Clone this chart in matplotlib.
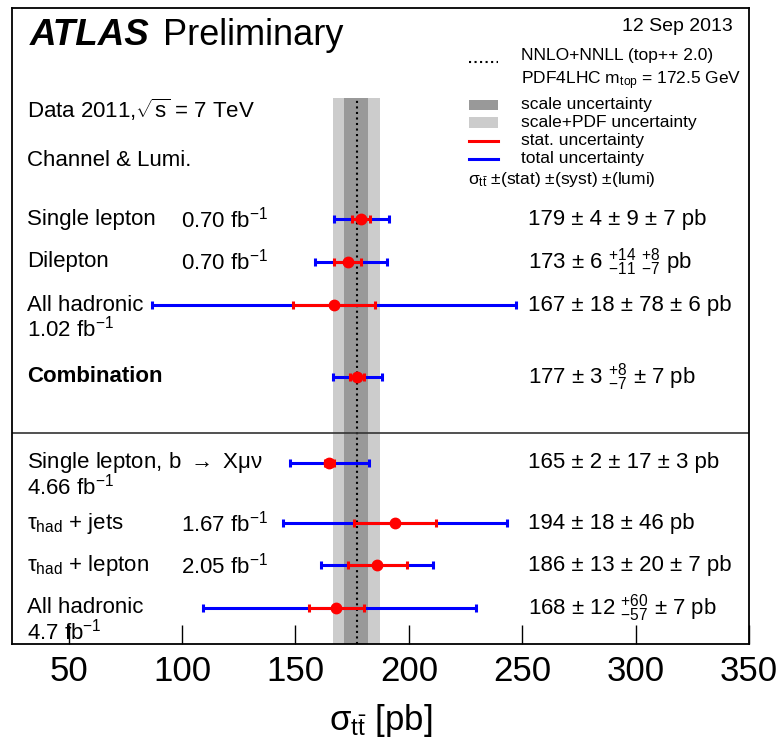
import numpy as np
import matplotlib
matplotlib.use("Agg")
import matplotlib.pyplot as plt
from matplotlib.patches import Rectangle
from matplotlib.lines import Line2D

plt.rcParams['font.family'] = ['Liberation Sans', 'DejaVu Sans']
plt.rcParams['mathtext.fontset'] = 'custom'
plt.rcParams['mathtext.rm'] = 'Liberation Sans'
plt.rcParams['mathtext.it'] = 'Liberation Sans:italic'
plt.rcParams['mathtext.bf'] = 'Liberation Sans:bold'

# measurements (pb)
channels = ["Single lepton", "Dilepton", "All hadronic", "Combination",
            r"Single lepton, b $\rightarrow$ X$\mathrm{\mu\nu}$", r"$\mathrm{\tau}_{\mathrm{had}}$ + jets",
            r"$\mathrm{\tau}_{\mathrm{had}}$ + lepton", "All hadronic"]
lumis = ["0.70 fb$^{\mathrm{-1}}$", "0.70 fb$^{\mathrm{-1}}$", "1.02 fb$^{\mathrm{-1}}$", "",
         "4.66 fb$^{\mathrm{-1}}$", "1.67 fb$^{\mathrm{-1}}$", "2.05 fb$^{\mathrm{-1}}$", "4.7 fb$^{\mathrm{-1}}$"]
central = np.array([179, 173, 167, 177, 165, 194, 186, 168])
stat = np.array([4, 6, 18, 3, 2, 18, 13, 12])
syst_up = np.array([9, 14, 78, 8, 17, 46, 20, 60])
syst_dn = np.array([9, 11, 78, 7, 17, 46, 20, 57])
lumi_up = np.array([7, 8, 6, 7, 3, 0, 7, 7])
lumi_dn = np.array([7, 7, 6, 7, 3, 0, 7, 7])
value_labels = [
    "179 ± 4 ± 9 ± 7 pb",
    "173 ± 6 $^{+14}_{-11}$ $^{+8}_{-7}$ pb",
    "167 ± 18 ± 78 ± 6 pb",
    "177 ± 3 $^{+8}_{-7}$ ± 7 pb",
    "165 ± 2 ± 17 ± 3 pb",
    "194 ± 18 ± 46 pb",
    "186 ± 13 ± 20 ± 7 pb",
    "168 ± 12 $^{+60}_{-57}$ ± 7 pb",
]

# theory NNLO+NNLL
theory = 177.3
scale_up, scale_dn = 4.6, 6.0
pdf_unc = 9.0

tot_up = np.sqrt(stat**2 + syst_up**2 + lumi_up**2)
tot_dn = np.sqrt(stat**2 + syst_dn**2 + lumi_dn**2)
band_up = np.hypot(scale_up, pdf_unc)
band_dn = np.hypot(scale_dn, pdf_unc)

# layout (axes fraction)
row_y = [0.668, 0.601, 0.533, 0.420, 0.285, 0.190, 0.124, 0.057]
two_line = [False, False, True, False, True, False, False, True]
line_gap = 0.037

fig = plt.figure(figsize=(7.82, 7.49), dpi=100)
ax = fig.add_axes([0.01535, 0.1402, 0.9425, 0.8491])
ax.set_xlim(25, 350)
ax.set_ylim(0, 1)

band_top = 0.858
ax.axvspan(theory - band_dn, theory + band_up, ymin=0, ymax=band_top, color='#cccccc', lw=0, zorder=1)
ax.axvspan(theory - scale_dn, theory + scale_up, ymin=0, ymax=band_top, color='#999999', lw=0, zorder=1)
ax.axvline(theory, ymin=0, ymax=band_top, color='black', ls=':', lw=1.5, zorder=2)
ax.axhline(0.332, color='#333333', lw=1.2, zorder=2)

ax.errorbar(central, row_y, xerr=[tot_dn, tot_up], fmt='none', ecolor='blue',
            elinewidth=2.2, capsize=3, capthick=2.2, zorder=3)
ax.errorbar(central, row_y, xerr=[stat, stat], fmt='none', ecolor='red',
            elinewidth=2.2, capsize=3, capthick=2.2, zorder=4)
ax.plot(central, row_y, 'o', color='red', ms=7.5, zorder=5)

for i, (name, lum, val) in enumerate(zip(channels, lumis, value_labels)):
    y = row_y[i]
    weight = 'bold' if name == "Combination" else 'normal'
    ax.text(0.020, y, name, transform=ax.transAxes, fontsize=16, va='center', weight=weight)
    if lum:
        if two_line[i]:
            ax.text(0.020, y - line_gap, lum, transform=ax.transAxes, fontsize=16, va='center')
        else:
            ax.text(0.229, y, lum, transform=ax.transAxes, fontsize=16, va='center')
    ax.text(0.700, y, val, transform=ax.transAxes, fontsize=16, va='center')

# header texts
ax.text(0.0244, 0.956, "ATLAS", transform=ax.transAxes, fontsize=26.5, weight='bold',
        style='italic', va='center')
ax.text(0.205, 0.956, "Preliminary", transform=ax.transAxes, fontsize=26, va='center')
ax.text(0.978, 0.971, "12 Sep 2013", transform=ax.transAxes, fontsize=14, va='center', ha='right')
ax.text(0.020, 0.840, r"Data 2011,$\sqrt{\mathrm{s}}$ = 7 TeV", transform=ax.transAxes,
        fontsize=16, va='center')
ax.text(0.020, 0.761, "Channel & Lumi.", transform=ax.transAxes, fontsize=16, va='center')

# legend
lx0, lx1, tx = 0.620, 0.660, 0.691
ax.add_line(Line2D([lx0, lx1], [0.915, 0.915], transform=ax.transAxes, color='black', ls=':', lw=1.5))
ax.text(tx, 0.925, "NNLO+NNLL (top++ 2.0)", transform=ax.transAxes, fontsize=12.5, va='center')
ax.text(tx, 0.886, r"PDF4LHC m$_{\mathrm{top}}$ = 172.5 GeV", transform=ax.transAxes, fontsize=12.5, va='center')
ax.add_patch(Rectangle((lx0, 0.840), lx1 - lx0, 0.016, transform=ax.transAxes, color='#999999', lw=0))
ax.text(tx, 0.849, "scale uncertainty", transform=ax.transAxes, fontsize=12.5, va='center')
ax.add_patch(Rectangle((lx0, 0.811), lx1 - lx0, 0.017, transform=ax.transAxes, color='#cccccc', lw=0))
ax.text(tx, 0.820, "scale+PDF uncertainty", transform=ax.transAxes, fontsize=12.5, va='center')
ax.add_line(Line2D([lx0, lx1], [0.791, 0.791], transform=ax.transAxes, color='red', lw=2.2))
ax.text(tx, 0.792, "stat. uncertainty", transform=ax.transAxes, fontsize=12.5, va='center')
ax.add_line(Line2D([lx0, lx1], [0.763, 0.763], transform=ax.transAxes, color='blue', lw=2.2))
ax.text(tx, 0.764, "total uncertainty", transform=ax.transAxes, fontsize=12.5, va='center')
ax.text(0.619, 0.730, r"$\mathrm{\sigma}_{\mathrm{t\bar{t}}}$ ±(stat) ±(syst) ±(lumi)",
        transform=ax.transAxes, fontsize=12.5, va='center')

ax.set_xticks([50, 100, 150, 200, 250, 300, 350])
ax.set_yticks([])
ax.tick_params(axis='x', direction='in', length=14, width=1, labelsize=25, pad=8, top=False)
for s in ax.spines.values():
    s.set_linewidth(1.3)
ax.set_xlabel(r"$\mathrm{\sigma}_{\mathrm{t\bar{t}}}$ [pb]", fontsize=25, labelpad=10)

fig.savefig("out.png", dpi=100)
